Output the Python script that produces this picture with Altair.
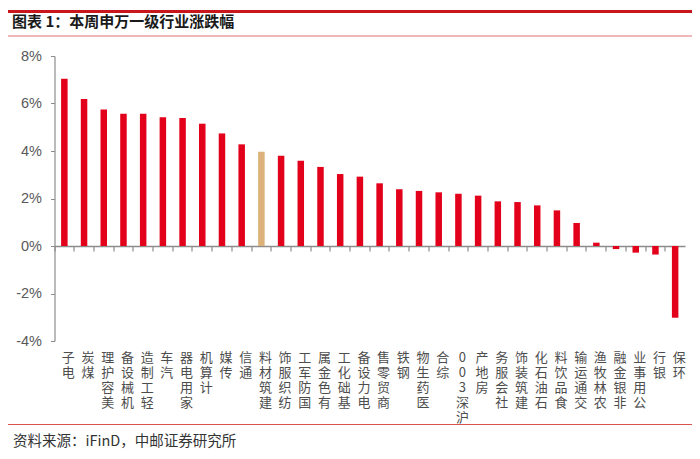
import altair as alt
import pandas as pd

categories = ["电子", "煤炭", "美容护理", "机械设备", "轻工制造", "汽车", "家用电器", "计算机",
              "传媒", "通信", "建筑材料", "纺织服饰", "国防军工", "有色金属", "基础化工", "电力设备",
              "商贸零售", "钢铁", "医药生物", "综合", "沪深300", "房地产", "社会服务", "建筑装饰",
              "石油石化", "食品饮料", "交通运输", "农林牧渔", "非银金融", "公用事业", "银行", "环保"]
values = [7.04, 6.19, 5.75, 5.57, 5.57, 5.42, 5.39, 5.15,
          4.74, 4.28, 3.97, 3.80, 3.59, 3.33, 3.03, 2.92,
          2.64, 2.39, 2.32, 2.26, 2.20, 2.12, 1.88, 1.85,
          1.71, 1.50, 0.97, 0.14, -0.13, -0.28, -0.36, -3.02]
highlight = "建筑材料"
y_ticks = [-4, -2, 0, 2, 4, 6, 8]

title_text = ["图表 1：本周申万一级行业涨跌幅"]
source_text = ["资料来源：iFinD，中邮证券研究所"]

RED = "#E3001B"
TAN = "#DDB27A"
AXIS = "#8C8C8C"

df = pd.DataFrame({"cat": categories, "val": values})
df["hl"] = df["cat"] == highlight

W, H = 630.5, 285
PL, PT = 46.5, 48

yscale = alt.Scale(domain=[-4, 8], nice=False, zero=False)

bars = alt.Chart(df).mark_bar(size=6.5).encode(
    x=alt.X("cat:N", sort=categories, title=None,
            scale=alt.Scale(paddingInner=0, paddingOuter=0),
            axis=alt.Axis(orient="bottom", offset=-95, domain=True, domainColor=AXIS,
                          domainWidth=1.5, ticks=True,
                          tickColor=AXIS, tickSize=5, tickWidth=1.2, bandPosition=0,
                          labelAngle=0, labelPadding=100, labelOffset=4,
                          labelExpr="reverse(split(datum.label, ''))",
                          labelLineHeight=15, labelFontSize=13, labelColor="#4d4d4d",
                          labelFont="Noto Sans CJK SC", labelBaseline="top",
                          labelAlign="center")),
    y=alt.Y("val:Q", title=None, scale=yscale,
            axis=alt.Axis(values=y_ticks, labelExpr="datum.value + '%'", grid=False,
                          domainColor=AXIS, domainWidth=1.2, tickColor=AXIS, tickSize=4,
                          labelPadding=9, labelFontSize=14.5, labelColor="#595959",
                          labelFont="Liberation Sans")),
    color=alt.condition(alt.datum.hl, alt.value(TAN), alt.value(RED)),
)

title = alt.Chart(pd.DataFrame({"t": title_text})).mark_text(
    align="left", baseline="middle", fontSize=15, fontWeight="bold",
    font="Noto Sans CJK SC", color="#1a1a1a"
).encode(text="t:N", x=alt.value(-42.5), y=alt.value(-34))

source = alt.Chart(pd.DataFrame({"t": source_text})).mark_text(
    align="left", baseline="middle", fontSize=14.5,
    font="Noto Sans CJK SC", color="#333333"
).encode(text="t:N", x=alt.value(-41.5), y=alt.value(385.5))

top_line = alt.Chart(pd.DataFrame({"a": [0]})).mark_rule(color="#C8161D", strokeWidth=3).encode(
    x=alt.value(-PL), x2=alt.value(640), y=alt.value(-PT + 3.5))
sub_line = alt.Chart(pd.DataFrame({"a": [0]})).mark_rule(color="#E8A0A0", strokeWidth=1.5).encode(
    x=alt.value(-PL), x2=alt.value(640), y=alt.value(-20))
bottom_line = alt.Chart(pd.DataFrame({"a": [0]})).mark_rule(color="#D9534F", strokeWidth=1.2).encode(
    x=alt.value(-PL), x2=alt.value(640), y=alt.value(368.5))

chart = alt.layer(bars, title, source, top_line, sub_line, bottom_line).properties(
    width=W, height=H,
    padding={"left": PL, "top": PT, "right": 7, "bottom": 110},
    autosize=alt.AutoSizeParams(type="none"),
).configure_view(stroke=None)

chart.save("out.html", embed_options={"renderer": "svg", "actions": False})
